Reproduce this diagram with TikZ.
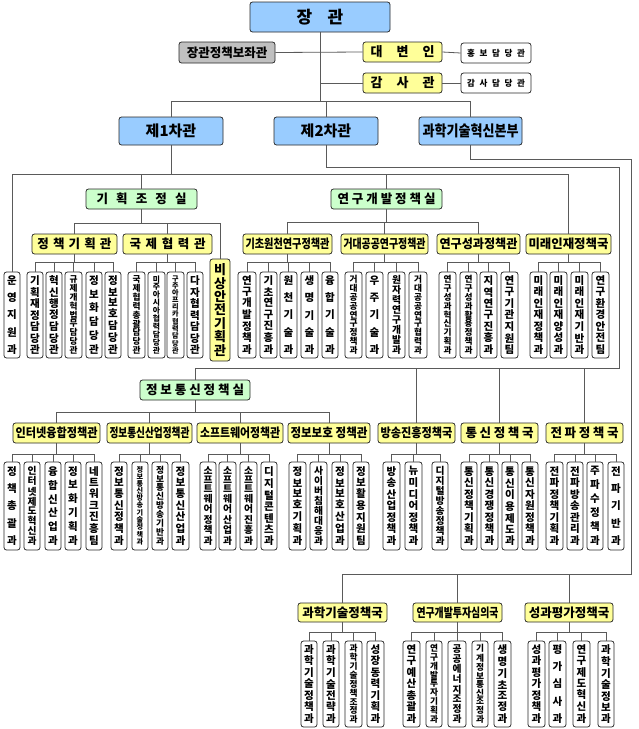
\documentclass[tikz,border=0pt]{standalone}
\usepackage{fontspec}
\setmainfont{Noto Sans CJK KR}
\usepackage{graphicx}
\definecolor{cblue}{RGB}{153,204,255}
\definecolor{cyel}{RGB}{255,255,153}
\definecolor{cgreen}{RGB}{204,255,204}
\definecolor{cgray}{RGB}{192,192,192}
\definecolor{lncol}{RGB}{90,90,90}
\definecolor{bdcol}{RGB}{40,40,40}
\newlength\vth \setlength\vth{78pt}
\newcount\vtn
\newsavebox\hfbox
\makeatletter
\def\vt@count#1{\ifx#1\@nil\else\advance\vtn\@ne\expandafter\vt@count\fi}
\def\vt@a#1{\hbox to 0pt{\hss#1\hss}\vt@b}
\def\vt@b#1{\ifx#1\@nil\else\vfill\hbox to 0pt{\hss#1\hss}\expandafter\vt@b\fi}
\newcommand\vtext[2][10.5]{%
  \vtn=0 \vt@count#2\@nil
  \dimen@=#1pt \multiply\dimen@\vtn
  \ifdim\dimen@>\vth \dimen@=\vth \divide\dimen@\vtn \else \dimen@=#1pt \fi
  \edef\vt@sz{\strip@pt\dimen@}%
  \fontsize{\vt@sz}{\vt@sz}\selectfont
  \vbox to\vth{\offinterlineskip\vt@a#2\@nil}}
\makeatother
\newcommand\fs[1]{\fontsize{#1}{#1}\selectfont}
\newcommand\hfit[2]{\sbox\hfbox{#2}\ifdim\wd\hfbox>#1\relax\resizebox{#1}{\ht\hfbox}{\usebox\hfbox}\else\usebox\hfbox\fi}
\newcommand\B[7]{\node[#1,minimum width={#4pt-#2pt},minimum height={#5pt-#3pt}] (#6) at ({(#2+#4)/2},{(#3+#5)/2}) {#7};}
\newcommand\CA[4]{\B{bxwhite}{#1}{272}{#2}{358}{#3}{\vtext{#4}}}
\newcommand\CB[4]{\B{bxwhite}{#1}{462}{#2}{550}{#3}{\vtext{#4}}}
\newcommand\CC[4]{\B{bxwhite}{#1}{641}{#2}{727}{#3}{\vtext{#4}}}
\newcommand\tree[3]{\foreach \cc in {#3}{\draw[ln] (#1.south) |- (\cc.north |- 0,#2) -- (\cc.north);}}
\begin{document}
\begin{tikzpicture}[x=1pt,y=-1pt,
  ln/.style={draw=lncol,line width=0.8pt},
  bx/.style={draw=bdcol,line width=0.75pt,rounded corners=2.5pt,inner sep=0pt,font=\bfseries},
  bxblue/.style={bx,fill=cblue},
  bxgray/.style={bx,fill=cgray},
  bxyel/.style={bx,fill=cyel},
  bxgreen/.style={bx,fill=cgreen},
  bxwhite/.style={bx,fill=white}]
\fill[white] (0,0) rectangle (639,729);
\useasboundingbox (0,0) rectangle (639,729);
% top
\B{bxblue}{250}{2}{390}{32}{jang}{\fs{17}장\hspace{0.9em}관}
\B{bxgray}{179}{42}{275}{63}{bojwa}{\fs{12.5}장관정책보좌관}
\B{bxyel}{363}{42}{442}{62}{dae}{\fs{13}\makebox[64pt]{대\hfill 변\hfill 인}}
\B{bxwhite}{461}{43}{531}{63}{hong}{\fs{8.5}\makebox[58pt]{홍\hfill 보\hfill 담\hfill 당\hfill 관}}
\B{bxyel}{363}{73}{442}{93}{gam}{\fs{13}\makebox[64pt]{감\hfill 사\hfill 관}}
\B{bxwhite}{461}{73}{531}{93}{gamdam}{\fs{8.5}\makebox[58pt]{감\hfill 사\hfill 담\hfill 당\hfill 관}}
\B{bxblue}{119}{117}{223}{145}{cha1}{\fs{15}제1차관}
\B{bxblue}{274}{117}{378}{145}{cha2}{\fs{15}제2차관}
\B{bxblue}{419}{117}{522}{145}{bonbu}{\fs{15}\hfit{96pt}{과학기술혁신본부}}
\B{bxgreen}{86}{189}{197}{209}{gijo}{\fs{12.5}\makebox[90pt]{기\hfill 획\hfill 조\hfill 정\hfill 실}}
\B{bxgreen}{331}{189}{442}{209}{yeongae}{\fs{12.5}\makebox[98pt]{연\hfill 구\hfill 개\hfill 발\hfill 정\hfill 책\hfill 실}}
% level 2
\B{bxyel}{32}{234}{117}{254}{jeongki}{\fs{12.5}\makebox[74pt]{정\hfill 책\hfill 기\hfill 획\hfill 관}}
\B{bxyel}{123}{234}{212}{254}{gukje}{\fs{12.5}\makebox[76pt]{국\hfill 제\hfill 협\hfill 력\hfill 관}}
\B{bxyel}{243}{234}{332}{254}{gicho}{\fs{12.5}\hfit{84pt}{기초원천연구정책관}}
\B{bxyel}{341}{234}{428}{254}{geodae}{\fs{12.5}\hfit{82pt}{거대공공연구정책관}}
\B{bxyel}{437}{234}{520}{254}{seonggwa}{\fs{12.5}\hfit{78pt}{연구성과정책관}}
\B{bxyel}{526}{234}{611}{254}{mirae}{\fs{12.5}\hfit{80pt}{미래인재정책국}}
\B{bxyel}{210}{259}{230}{361}{bisang}{\setlength\vth{92pt}\vtext[13]{비상안전기획관}}
\CA{4}{20}{unyeong}{운영지원과}
\CA{27}{43}{a1}{기획재정담당관}
\CA{46}{62}{a2}{혁신행정담당관}
\CA{65}{82}{a3}{규제개혁법무담당관}
\CA{86}{102}{a4}{정보화담당관}
\CA{105}{121}{a5}{정보보호담당관}
\CA{128}{145}{b1}{국제협력총괄담당관}
\CA{148}{165}{b2}{미주아시아협력담당관}
\CA{167}{184}{b3}{구주아프리카협력담당관}
\CA{187}{203}{b4}{다자협력담당관}
\CA{238}{256}{c1}{연구개발정책과}
\CA{260}{277}{c2}{기초연구진흥과}
\CA{280}{297}{c3}{원천기술과}
\CA{301}{318}{c4}{생명기술과}
\CA{322}{338}{c5}{융합기술과}
\CA{345}{362}{d1}{거대공공연구정책과}
\CA{366}{383}{d2}{우주기술과}
\CA{388}{405}{d3}{원자력연구개발과}
\CA{409}{427}{d4}{거대공공연구협력과}
\CA{439}{456}{e1}{연구성과혁신기획과}
\CA{460}{477}{e2}{연구성과활용정책과}
\CA{480}{497}{e3}{지역연구진흥과}
\CA{501}{518}{e4}{연구기관지원팀}
\CA{530}{547}{f1}{미래인재정책과}
\CA{550}{567}{f2}{미래인재양성과}
\CA{571}{588}{f3}{미래인재기반과}
\CA{592}{609}{f4}{연구환경안전팀}
% ICT
\B{bxgreen}{140}{380}{250}{400}{ict}{\fs{12.5}\makebox[98pt]{정\hfill 보\hfill 통\hfill 신\hfill 정\hfill 책\hfill 실}}
\B{bxyel}{13}{423}{100}{443}{inter}{\fs{12.5}\hfit{82pt}{인터넷융합정책관}}
\B{bxyel}{107}{423}{192}{443}{icind}{\fs{12.5}\hfit{80pt}{정보통신산업정책관}}
\B{bxyel}{197}{423}{283}{443}{sw}{\fs{12.5}\hfit{80pt}{소프트웨어정책관}}
\B{bxyel}{288}{423}{370}{443}{secu}{\fs{12.5}\hfit{77pt}{정보보호 정책관}}
\B{bxyel}{378}{423}{455}{443}{bang}{\fs{12.5}\hfit{72pt}{방송진흥정책국}}
\B{bxyel}{461}{423}{538}{443}{tong}{\fs{12.5}\makebox[68pt]{통\hfill 신\hfill 정\hfill 책\hfill 국}}
\B{bxyel}{546}{423}{623}{443}{jeonpa}{\fs{12.5}\makebox[68pt]{전\hfill 파\hfill 정\hfill 책\hfill 국}}
\CB{4}{20}{g1}{정책총괄과}
\CB{24}{40}{g2}{인터넷제도혁신과}
\CB{45}{61}{g3}{융합신산업과}
\CB{65}{81}{g4}{정보화기획과}
\CB{86}{102}{g5}{네트워크진흥팀}
\CB{111}{127}{h1}{정보통신정책과}
\CB{132}{148}{h2}{정보통신방송기술정책과}
\CB{152}{168}{h3}{정보통신방송기반과}
\CB{172}{189}{h4}{정보통신산업과}
\CB{200}{216}{i1}{소프트웨어정책과}
\CB{219}{236}{i2}{소프트웨어산업과}
\CB{240}{257}{i3}{소프트웨어진흥과}
\CB{261}{277}{i4}{디지털콘텐츠과}
\CB{289}{306}{j1}{정보보호기획과}
\CB{310}{327}{j2}{사이버침해대응과}
\CB{332}{348}{j3}{정보보호산업과}
\CB{353}{369}{j4}{정보활용지원팀}
\CB{383}{400}{k1}{방송산업정책과}
\CB{405}{422}{k2}{뉴미디어정책과}
\CB{432}{448}{k3}{디지털방송정책과}
\CB{461}{477}{l1}{통신정책기획과}
\CB{481}{498}{l2}{통신경쟁정책과}
\CB{502}{518}{l3}{통신이용제도과}
\CB{522}{538}{l4}{통신자원정책과}
\CB{546}{563}{m1}{전파정책기획과}
\CB{567}{583}{m2}{전파방송관리과}
\CB{587}{603}{m3}{주파수정책과}
\CB{608}{624}{m4}{전파기반과}
% bottom
\B{bxyel}{298}{603}{387}{622}{gwapol}{\fs{12.5}\hfit{82pt}{과학기술정책국}}
\B{bxyel}{413}{603}{502}{622}{tuja}{\fs{12.5}\hfit{82pt}{연구개발투자심의국}}
\B{bxyel}{525}{603}{613}{622}{pyeong}{\fs{12.5}\hfit{82pt}{성과평가정책국}}
\CC{301}{317}{n1}{과학기술정책과}
\CC{323}{339}{n2}{과학기술전략과}
\CC{345}{362}{n3}{과학기술정책조정과}
\CC{367}{384}{n4}{성장동력기획과}
\CC{403}{420}{o1}{연구예산총괄과}
\CC{426}{442}{o2}{연구개발투자기획과}
\CC{448}{466}{o3}{공공에너지조정과}
\CC{472}{488}{o4}{기계정보통신조정과}
\CC{494}{511}{o5}{생명기초조정과}
\CC{528}{545}{p1}{성과평가정책과}
\CC{549}{566}{p2}{평가심사과}
\CC{573}{590}{p3}{연구제도혁신과}
\CC{598}{614}{p4}{과학기술정보과}
% connectors
\draw[ln] (jang.south) -- (jang.south |- 0,101);
\tree{jang}{101}{cha1,cha2,bonbu}
\draw[ln] (bojwa.east) -- (dae.west);
\draw[ln] (jang.south |- gam.west) -- (gam.west);
\draw[ln] (dae.east) -- (hong.west);
\draw[ln] (gam.east) -- (gamdam.west);
\tree{cha1}{174}{unyeong,gijo,yeongae,mirae}
\coordinate (c2a) at (619,167);
\coordinate (c2b) at (619,368);
\draw[ln] (cha2.south) |- (c2a) -- (c2b) -| (ict.north);
\foreach \n in {bang,tong,jeonpa} \draw[ln] (c2b) -| (\n.north);
\coordinate (bba) at (631,159);
\coordinate (bbb) at (631,574);
\draw[ln] (bonbu.south) |- (bba) -- (bbb) -| (gwapol.north);
\foreach \n in {tuja,pyeong} \draw[ln] (bbb) -| (\n.north);
\tree{gijo}{223}{jeongki,gukje,bisang}
\tree{yeongae}{222}{gicho,geodae,seonggwa}
\tree{jeongki}{262}{a1,a2,a3,a4,a5}
\tree{gukje}{262}{b1,b2,b3,b4}
\tree{gicho}{262}{c1,c2,c3,c4,c5}
\tree{geodae}{262}{d1,d2,d3,d4}
\tree{seonggwa}{262}{e1,e2,e3,e4}
\tree{mirae}{262}{f1,f2,f3,f4}
\tree{ict}{412}{inter,icind,sw,secu}
\tree{inter}{454}{g1,g2,g3,g4,g5}
\tree{icind}{454}{h1,h2,h3,h4}
\tree{sw}{454}{i1,i2,i3,i4}
\tree{secu}{454}{j1,j2,j3,j4}
\tree{bang}{454}{k1,k2,k3}
\tree{tong}{454}{l1,l2,l3,l4}
\tree{jeonpa}{454}{m1,m2,m3,m4}
\tree{gwapol}{632}{n1,n2,n3,n4}
\tree{tuja}{632}{o1,o2,o3,o4,o5}
\tree{pyeong}{632}{p1,p2,p3,p4}
\end{tikzpicture}
\end{document}
